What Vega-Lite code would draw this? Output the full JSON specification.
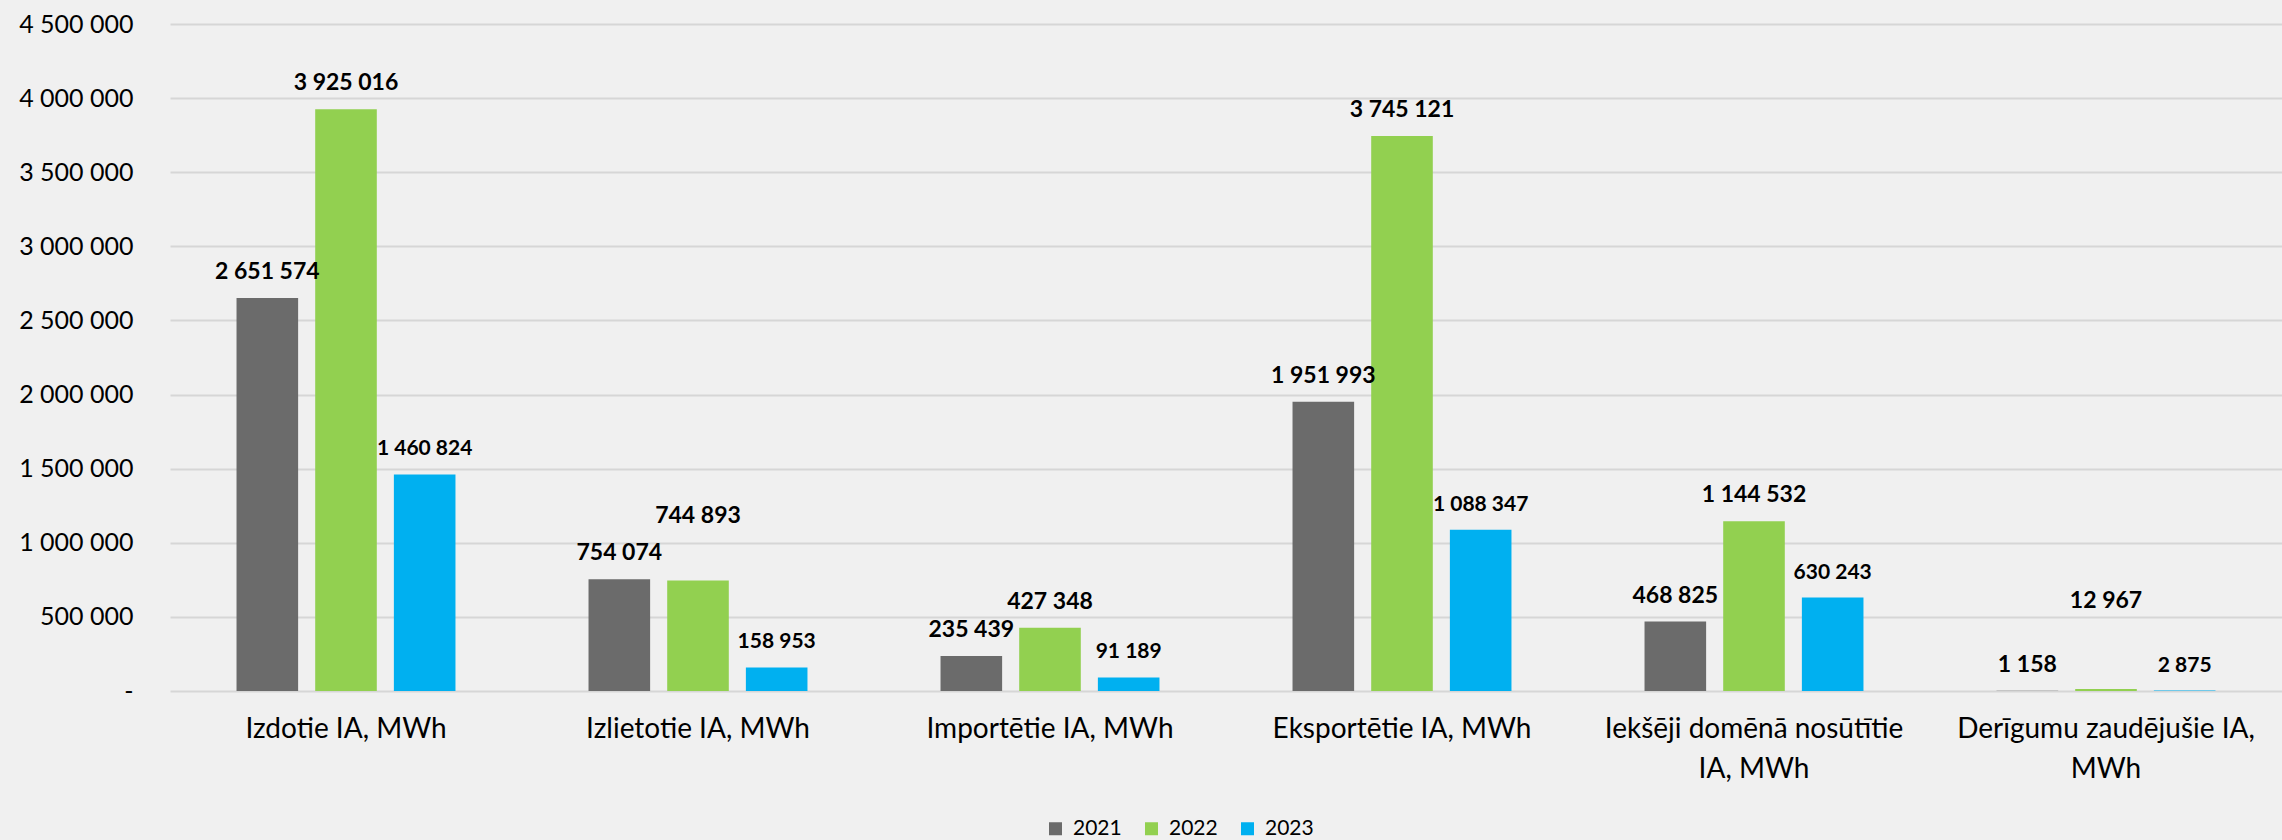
{
  "$schema": "https://vega.github.io/schema/vega-lite/v6.json",
  "description": "Izcelsmes apliecinājumi (IA) 2021-2023, MWh",
  "background": "#f0f0f0",
  "autosize": {"type": "none"},
  "padding": {"left": 170, "top": 24, "right": 0, "bottom": 149},
  "width": 2112,
  "height": 667,
  "config": {
    "font": "Lato",
    "view": {"stroke": null},
    "locale": {"number": {"decimal": ",", "thousands": " ", "grouping": [3], "currency": ["", " €"]}}
  },
  "data": {
    "values": [
      {"cat": "Izdotie IA, MWh", "year": "2021", "value": 2651574},
      {"cat": "Izdotie IA, MWh", "year": "2022", "value": 3925016},
      {"cat": "Izdotie IA, MWh", "year": "2023", "value": 1460824},
      {"cat": "Izlietotie IA, MWh", "year": "2021", "value": 754074},
      {"cat": "Izlietotie IA, MWh", "year": "2022", "value": 744893},
      {"cat": "Izlietotie IA, MWh", "year": "2023", "value": 158953},
      {"cat": "Importētie IA, MWh", "year": "2021", "value": 235439},
      {"cat": "Importētie IA, MWh", "year": "2022", "value": 427348},
      {"cat": "Importētie IA, MWh", "year": "2023", "value": 91189},
      {"cat": "Eksportētie IA, MWh", "year": "2021", "value": 1951993},
      {"cat": "Eksportētie IA, MWh", "year": "2022", "value": 3745121},
      {"cat": "Eksportētie IA, MWh", "year": "2023", "value": 1088347},
      {"cat": "Iekšēji domēnā nosūtītie IA, MWh", "year": "2021", "value": 468825},
      {"cat": "Iekšēji domēnā nosūtītie IA, MWh", "year": "2022", "value": 1144532},
      {"cat": "Iekšēji domēnā nosūtītie IA, MWh", "year": "2023", "value": 630243},
      {"cat": "Derīgumu zaudējušie IA, MWh", "year": "2021", "value": 1158},
      {"cat": "Derīgumu zaudējušie IA, MWh", "year": "2022", "value": 12967},
      {"cat": "Derīgumu zaudējušie IA, MWh", "year": "2023", "value": 2875}
    ]
  },
  "encoding": {
    "x": {
      "field": "cat",
      "type": "nominal",
      "sort": null,
      "title": null,
      "scale": {"paddingInner": 0.378, "paddingOuter": 0.189},
      "axis": {
        "domain": false,
        "ticks": false,
        "labelAngle": 0,
        "labelFontSize": 28,
        "labelColor": "#000000",
        "labelPadding": 24,
        "labelLineHeight": 40,
        "labelLimit": 0,
        "labelExpr": "datum.value == 'Iekšēji domēnā nosūtītie IA, MWh' ? ['Iekšēji domēnā nosūtītie', 'IA, MWh'] : datum.value == 'Derīgumu zaudējušie IA, MWh' ? ['Derīgumu zaudējušie IA,', 'MWh'] : datum.label"
      }
    },
    "xOffset": {
      "field": "year",
      "type": "nominal",
      "scale": {"paddingInner": 0.217, "paddingOuter": 0}
    },
    "y": {
      "field": "value",
      "type": "quantitative",
      "title": null,
      "scale": {"domain": [0, 4500000], "nice": false},
      "axis": {
        "values": [0, 500000, 1000000, 1500000, 2000000, 2500000, 3000000, 3500000, 4000000, 4500000],
        "format": ",d",
        "labelExpr": "datum.value === 0 ? '-' : datum.label",
        "domain": false,
        "ticks": false,
        "labelFontSize": 25,
        "labelColor": "#000000",
        "labelPadding": 37,
        "gridColor": "#d6d6d6",
        "gridWidth": 2
      }
    }
  },
  "layer": [
    {
      "mark": {"type": "bar"},
      "encoding": {
        "color": {
          "field": "year",
          "type": "nominal",
          "title": null,
          "scale": {"domain": ["2021", "2022", "2023"], "range": ["#6b6b6b", "#92d050", "#00b0f0"]},
          "legend": {
            "orient": "none",
            "legendX": 875,
            "legendY": 794,
            "direction": "horizontal",
            "symbolType": "square",
            "symbolSize": 169,
            "symbolStrokeWidth": 0,
            "labelFontSize": 21,
            "labelColor": "#000000",
            "labelOffset": 7,
            "columnPadding": 19,
            "padding": 0
          }
        }
      }
    },
    {
      "encoding": {
        "text": {"field": "value", "type": "quantitative", "format": ",d"},
        "size": {"condition": {"test": "datum.year == '2023'", "value": 21}, "value": 23}
      },
      "layer": [
        {
          "transform": [{"filter": "!(datum.year == '2022' && (datum.cat == 'Izlietotie IA, MWh' || datum.cat == 'Derīgumu zaudējušie IA, MWh'))"}],
          "mark": {"type": "text", "fontWeight": "bold", "color": "#000000", "baseline": "alphabetic", "dy": -19}
        },
        {
          "transform": [{"filter": "datum.year == '2022' && datum.cat == 'Izlietotie IA, MWh'"}],
          "mark": {"type": "text", "fontWeight": "bold", "color": "#000000", "baseline": "alphabetic", "dy": -58}
        },
        {
          "transform": [{"filter": "datum.year == '2022' && datum.cat == 'Derīgumu zaudējušie IA, MWh'"}],
          "mark": {"type": "text", "fontWeight": "bold", "color": "#000000", "baseline": "alphabetic", "dy": -81}
        }
      ]
    }
  ]
}
